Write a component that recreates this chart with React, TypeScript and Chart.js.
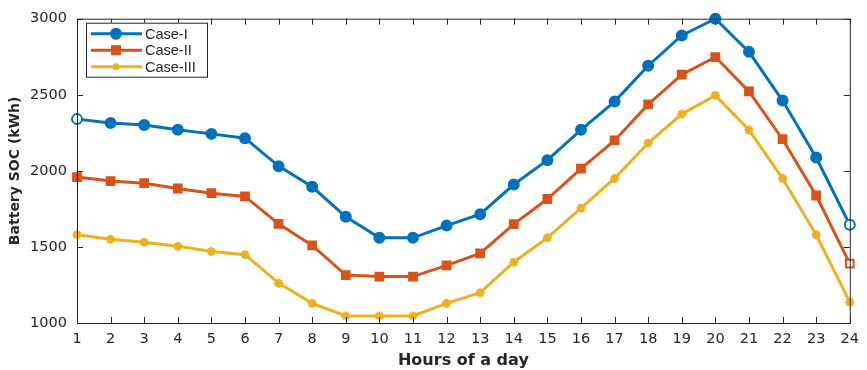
import React, { useEffect, useRef } from 'react';
import { Chart, registerables } from 'chart.js';
Chart.register(...registerables);

const hours = [1, 2, 3, 4, 5, 6, 7, 8, 9, 10, 11, 12, 13, 14, 15, 16, 17, 18, 19, 20, 21, 22, 23, 24];
const caseI = [2340, 2314, 2302, 2270, 2243, 2215, 2031, 1895, 1698, 1560, 1560, 1640, 1715, 1910, 2070, 2270, 2455, 2691, 2890, 3000, 2782, 2462, 2088, 1645];
const caseII = [1959, 1933, 1919, 1884, 1853, 1832, 1652, 1510, 1315, 1305, 1305, 1379, 1457, 1650, 1815, 2015, 2200, 2437, 2632, 2748, 2522, 2208, 1838, 1390];
const caseIII = [1580, 1550, 1531, 1504, 1470, 1449, 1262, 1129, 1046, 1046, 1046, 1129, 1199, 1400, 1560, 1755, 1950, 2183, 2373, 2496, 2268, 1950, 1580, 1137];
const seriesNames = ['Case-I', 'Case-II', 'Case-III'];
const yTicks = [1000, 1500, 2000, 2500, 3000];

const BLUE = '#0072BD';
const ORANGE = '#D95319';
const YELLOW = '#EDB120';
const AXIS = '#262626';
const FONT = '"DejaVu Sans", "Liberation Sans", Arial, sans-serif';
const LFONT = '"Liberation Sans", Arial, Helvetica, sans-serif';

const frame = {
  id: 'frame',
  afterDraw(chart: any) {
    const { ctx, chartArea: a, scales } = chart;
    ctx.save();
    ctx.strokeStyle = AXIS;
    ctx.lineWidth = 1;
    ctx.strokeRect(a.left + 0.5, a.top + 0.5, a.right - a.left, a.bottom - a.top);
    ctx.beginPath();
    const tl = 6;
    hours.forEach((h) => {
      const x = Math.round(scales.x.getPixelForValue(h)) + 0.5;
      ctx.moveTo(x, a.bottom);
      ctx.lineTo(x, a.bottom - tl);
      ctx.moveTo(x, a.top);
      ctx.lineTo(x, a.top + tl);
    });
    yTicks.forEach((v) => {
      const y = Math.round(scales.y.getPixelForValue(v)) + 0.5;
      ctx.moveTo(a.left, y);
      ctx.lineTo(a.left + tl, y);
      ctx.moveTo(a.right, y);
      ctx.lineTo(a.right - tl, y);
    });
    ctx.stroke();

    // legend
    const lx = a.left + 9;
    const ly = a.top + 4;
    const lw = 121;
    const lh = 54;
    ctx.fillStyle = '#fff';
    ctx.fillRect(lx, ly, lw, lh);
    ctx.strokeStyle = AXIS;
    ctx.strokeRect(lx + 0.5, ly + 0.5, lw, lh);
    const colors = [BLUE, ORANGE, YELLOW];
    ctx.font = `14.5px ${LFONT}`;
    ctx.textBaseline = 'middle';
    seriesNames.forEach((name, i) => {
      const y = ly + 11 + i * 16.5;
      ctx.strokeStyle = colors[i];
      ctx.lineWidth = 3;
      ctx.beginPath();
      ctx.moveTo(lx + 5, y);
      ctx.lineTo(lx + 56, y);
      ctx.stroke();
      ctx.fillStyle = colors[i];
      const cx = lx + 30;
      if (i === 0) {
        ctx.beginPath();
        ctx.arc(cx, y, 6, 0, Math.PI * 2);
        ctx.fill();
      } else if (i === 1) {
        ctx.fillRect(cx - 5, y - 5, 10, 10);
      } else {
        ctx.beginPath();
        ctx.arc(cx, y, 3.5, 0, Math.PI * 2);
        ctx.fill();
      }
      ctx.fillStyle = AXIS;
      ctx.textAlign = 'left';
      ctx.fillText(name, lx + 59, y + 1);
    });
    ctx.restore();
  },
};

export default function App() {
  const ref = useRef<HTMLCanvasElement>(null);
  useEffect(() => {
    document.body.style.margin = '0';
    const chart = new Chart(ref.current!, {
      type: 'line',
      data: {
        datasets: [
          {
            label: seriesNames[0],
            data: hours.map((h, i) => ({ x: h, y: caseI[i] })),
            borderColor: BLUE,
            backgroundColor: BLUE,
            pointBackgroundColor: hours.map((_, i) => (i === 0 || i === hours.length - 1 ? '#fff' : BLUE)),
            pointBorderColor: BLUE,
            borderWidth: 3,
            pointStyle: 'circle',
            pointRadius: 5,
            pointBorderWidth: 2,
            tension: 0,
            clip: false,
          },
          {
            label: seriesNames[1],
            data: hours.map((h, i) => ({ x: h, y: caseII[i] })),
            borderColor: ORANGE,
            backgroundColor: ORANGE,
            pointBackgroundColor: hours.map((_, i) => (i === hours.length - 1 ? '#fff' : ORANGE)),
            pointBorderColor: ORANGE,
            borderWidth: 3,
            pointStyle: 'rect',
            pointRadius: 5.5,
            pointBorderWidth: 2,
            tension: 0,
            clip: false,
          },
          {
            label: seriesNames[2],
            data: hours.map((h, i) => ({ x: h, y: caseIII[i] })),
            borderColor: YELLOW,
            backgroundColor: YELLOW,
            pointBackgroundColor: YELLOW,
            pointBorderColor: YELLOW,
            borderWidth: 3,
            pointStyle: 'star',
            pointRadius: 4.5,
            pointBorderWidth: 2.5,
            tension: 0,
            clip: false,
          },
        ],
      },
      options: {
        animation: false,
        responsive: false,
        maintainAspectRatio: false,
        layout: { padding: { top: 8, right: 12, left: 0, bottom: 0 } },
        plugins: { legend: { display: false }, tooltip: { enabled: false } },
        scales: {
          x: {
            type: 'linear',
            min: 1,
            max: 24,
            grid: { display: false, drawTicks: false },
            border: { display: false },
            ticks: {
              stepSize: 1,
              autoSkip: false,
              maxRotation: 0,
              padding: 8,
              color: AXIS,
              font: { family: FONT, size: 14.5 },
            },
            title: {
              display: true,
              text: 'Hours of a day',
              color: AXIS,
              font: { family: FONT, size: 16, weight: 'bold' },
              padding: { top: 3, bottom: 0 },
            },
            afterFit: (s: any) => {
              s.height = 47;
            },
          },
          y: {
            type: 'linear',
            min: 1000,
            max: 3000,
            grid: { display: false, drawTicks: false },
            border: { display: false },
            ticks: {
              stepSize: 500,
              padding: 10,
              color: AXIS,
              font: { family: FONT, size: 14.5 },
              callback: (v: any) => String(v),
            },
            title: {
              display: true,
              text: 'Battery SOC (kWh)',
              color: AXIS,
              font: { family: FONT, size: 14, weight: 'bold' },
              padding: { top: 6.5, bottom: 6 },
            },
            afterFit: (s: any) => {
              s.width = 77;
            },
          },
        },
      },
      plugins: [frame],
    });
    return () => chart.destroy();
  }, []);
  return (
    <div style={{ width: 867, height: 370 }}>
      <canvas ref={ref} width={867} height={370} style={{ display: 'block' }} />
    </div>
  );
}
